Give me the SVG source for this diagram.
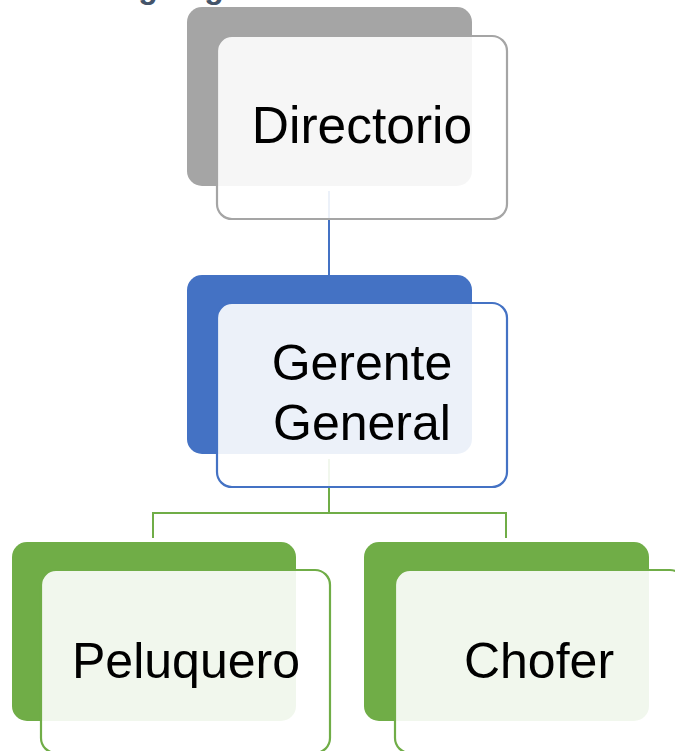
<svg xmlns="http://www.w3.org/2000/svg" width="675" height="751" viewBox="0 0 675 751">
  <style>
    .title { font-family: "Liberation Sans", Arial, sans-serif; font-weight: bold; font-size: 32px; fill: #44546A; }
    .label { font-family: "Liberation Sans", Arial, sans-serif; font-size: 50px; fill: #000000; text-anchor: middle; }
    .back { stroke: none; }
    .front { fill: #FFFFFF; fill-opacity: 0.9; stroke-width: 2.2; }
    .conn { fill: none; stroke-width: 2; }
  </style>

  <!-- page heading, mostly above the visible area -->
  <text class="title" x="101" y="-2">Organigrama</text>

  <!-- connectors -->
  <g id="connectors">
    <path class="conn" stroke="#4472C4" d="M329 191 V276"/>
    <path class="conn" stroke="#70AD47" d="M329 459 V513 M153 513 H506 M153 512 V538 M506 512 V538"/>
  </g>

  <g id="directorio">
    <rect class="back" x="187" y="7" width="285" height="179" rx="15" fill="#A5A5A5"/>
    <rect class="front" x="217" y="36" width="290" height="183" rx="15" stroke="#A5A5A5"/>
    <text class="label" x="362" y="143" style="font-size:51.5px">Directorio</text>
  </g>

  <g id="gerente-general">
    <rect class="back" x="187" y="275" width="285" height="179" rx="15" fill="#4472C4"/>
    <rect class="front" x="217" y="303" width="290" height="184" rx="15" stroke="#4472C4"/>
    <text class="label" x="362" y="380">Gerente</text>
    <text class="label" x="362" y="440">General</text>
  </g>

  <g id="peluquero">
    <rect class="back" x="12" y="542" width="284" height="179" rx="15" fill="#70AD47"/>
    <rect class="front" x="41" y="570" width="289" height="183" rx="15" stroke="#70AD47"/>
    <text class="label" x="186" y="678">Peluquero</text>
  </g>

  <g id="chofer">
    <rect class="back" x="364" y="542" width="285" height="179" rx="15" fill="#70AD47"/>
    <rect class="front" x="395" y="570" width="290" height="183" rx="15" stroke="#70AD47"/>
    <text class="label" x="539" y="678">Chofer</text>
  </g>
</svg>
